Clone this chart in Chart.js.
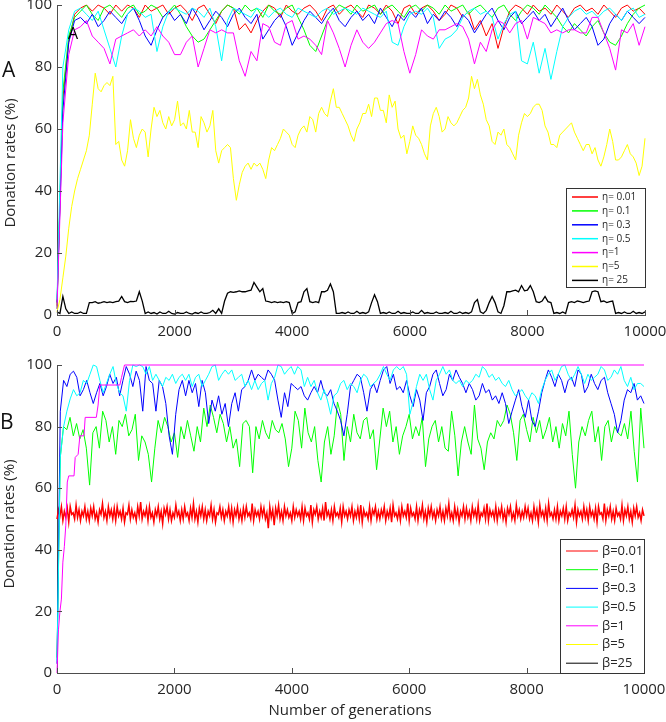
<!DOCTYPE html>
<html>
<head>
<meta charset="utf-8">
<script src="https://cdn.jsdelivr.net/npm/chart.js@4.4.1/dist/chart.umd.min.js"></script>
<style>
  html, body { margin: 0; padding: 0; background: #fff; }
  body { width: 666px; height: 722px; overflow: hidden; position: relative; }
  canvas { position: absolute; left: 0; }
  #top { top: -20px; }
  #bottom { top: 340px; }
</style>
</head>
<body>
<canvas id="top" width="700" height="370"></canvas>
<canvas id="bottom" width="700" height="382"></canvas>
<script>
const GEN_MAX = 10000;
const X_TICKS = [0, 2000, 4000, 6000, 8000, 10000];
const Y_TICKS = [0, 20, 40, 60, 80, 100];
const ETA_LABELS = ["η= 0.01", "η= 0.1", "η= 0.3", "η= 0.5", "η=1", "η=5", "η= 25"];
const BETA_LABELS = ["β=0.01", "β=0.1", "β=0.3", "β=0.5", "β=1", "β=5", "β=25"];
const COLORS = ["#ff0000", "#00ff00", "#0000ff", "#00ffff", "#ff00ff", "#ffff00", "#000000"];

// panel A, one value every 100 generations
const ETA_001 = [3, 70, 88, 97, 99, 100, 98, 100, 99, 97, 100,
  98, 100, 99, 96, 100, 98, 99, 100, 97, 99,
  100, 98, 95, 99, 100, 97, 94, 98, 100, 99,
  92, 94, 91, 95, 98, 100, 99, 96, 100, 98,
  97, 99, 100, 98, 95, 99, 100, 97, 99, 100,
  98, 96, 100, 99, 97, 100, 98, 94, 99, 100,
  97, 99, 100, 98, 95, 97, 100, 99, 96, 98,
  92, 95, 90, 94, 86, 93, 98, 100, 99, 97,
  100, 98, 99, 97, 100, 98, 96, 99, 100, 98,
  99, 97, 100, 98, 96, 99, 100, 98, 99, 97];
const ETA_01 = [2, 72, 90, 96, 98, 100, 97, 95, 99, 100, 98,
  96, 99, 100, 97, 98, 100, 99, 96, 98, 100,
  97, 93, 90, 88, 89, 92, 95, 98, 100, 99,
  97, 100, 98, 99, 96, 100, 98, 97, 99, 100,
  96, 92, 87, 85, 90, 95, 98, 100, 99, 97,
  100, 98, 99, 100, 97, 99, 100, 98, 96, 99,
  100, 98, 100, 99, 97, 100, 98, 99, 100, 97,
  99, 100, 98, 96, 99, 100, 97, 95, 98, 100,
  99, 97, 100, 98, 96, 93, 91, 94, 92, 90,
  93, 95, 91, 88, 87, 90, 94, 97, 99, 100];
const ETA_03 = [4, 66, 88, 95, 96, 94, 97, 93, 95, 98, 96,
  94, 97, 99, 95, 90, 87, 92, 96, 98, 95,
  97, 94, 99, 96, 92, 95, 98, 96, 93, 97,
  99, 96, 94, 97, 89, 92, 95, 97, 93, 87,
  91, 95, 98, 96, 94, 97, 99, 95, 93, 96,
  98, 95, 97, 94, 99, 96, 93, 97, 95, 98,
  96, 99, 94, 97, 95, 98, 96, 93, 97, 95,
  91, 94, 97, 99, 95, 92, 96, 98, 94, 96,
  98, 95, 97, 93, 96, 99, 95, 92, 94, 96,
  93, 87, 89, 94, 97, 95, 98, 96, 94, 96];
const ETA_05 = [5, 80, 92, 98, 99, 97, 95, 98, 92, 86, 80,
  90, 97, 99, 98, 96, 97, 85, 93, 98, 99,
  98, 97, 99, 98, 96, 99, 93, 82, 95, 99,
  98, 97, 96, 99, 98, 96, 98, 99, 97, 96,
  99, 98, 97, 96, 98, 99, 97, 98, 99, 98,
  97, 99, 98, 97, 96, 98, 88, 87, 93, 97,
  98, 97, 99, 96, 86, 89, 90, 92, 96, 98,
  99, 97, 98, 96, 89, 94, 97, 98, 82, 81,
  88, 78, 86, 76, 85, 93, 96, 98, 99, 97,
  98, 96, 98, 99, 97, 95, 98, 99, 96, 97];
const ETA_1 = [2, 62, 84, 92, 93, 95, 90, 88, 86, 81, 89,
  90, 91, 92, 90, 92, 90, 93, 90, 88, 84,
  84, 88, 90, 80, 86, 92, 91, 92, 91, 91,
  82, 77, 85, 82, 94, 93, 88, 87, 94, 95,
  89, 90, 89, 87, 84, 95, 91, 86, 80, 87,
  92, 88, 86, 88, 91, 94, 95, 94, 85, 78,
  84, 92, 90, 89, 92, 92, 93, 94, 93, 89,
  81, 88, 85, 92, 95, 94, 91, 94, 95, 89,
  96, 95, 94, 91, 92, 91, 92, 92, 91, 91,
  96, 96, 91, 86, 79, 92, 91, 94, 87, 93];
// one value every 50 generations
const ETA_5 = [1, 5, 12, 19, 28, 35, 40, 44, 47, 50, 53, 58, 68, 78, 73, 72, 74, 75, 74, 77,
  55, 56, 50, 48, 53, 63, 57, 54, 58, 60, 59, 51, 60, 67, 64, 66, 62, 60, 64, 61,
  63, 69, 61, 62, 60, 66, 59, 59, 54, 64, 62, 59, 61, 66, 53, 49, 53, 54, 55, 54,
  44, 37, 42, 46, 48, 49, 47, 49, 48, 49, 47, 44, 50, 54, 53, 55, 57, 60, 59, 58,
  55, 54, 58, 60, 61, 59, 64, 63, 59, 65, 67, 65, 64, 69, 73, 67, 67, 65, 63, 61,
  58, 56, 60, 62, 65, 65, 68, 64, 70, 70, 66, 66, 62, 71, 67, 69, 60, 57, 58, 52,
  56, 61, 58, 57, 55, 52, 50, 61, 65, 67, 64, 59, 60, 64, 62, 61, 62, 64, 66, 67,
  70, 77, 73, 76, 71, 68, 63, 61, 56, 55, 59, 58, 60, 55, 54, 52, 50, 58, 62, 65,
  64, 65, 67, 68, 68, 66, 61, 59, 55, 55, 54, 58, 59, 60, 61, 62, 59, 57, 55, 53,
  55, 55, 52, 54, 50, 48, 51, 55, 60, 56, 50, 50, 51, 53, 55, 52, 51, 49, 45, 48,
  57];
const ETA_25 = [1, 0.5, 6, 2, 0.5, 1, 0.5, 0.5, 1, 0.5, 0.5, 4, 4, 4.3, 3.8, 4, 4.3, 4, 4.2, 4,
  4.3, 4.5, 6, 4.3, 4, 4.4, 4.3, 4.5, 7.5, 4.5, 0.5, 1,
  0.5, 0.8, 0.3, 1, 0.5, 0.5, 1.2, 0.5, 0.3, 0.8, 0.5, 0.5, 1, 0.5, 0.3, 0.8, 0.5, 1, 0.5, 0.5, 0.8, 1.5, 0.5, 2, 0.5,
  4.5, 7, 7.5, 7.3, 7.5, 7.8, 7.5, 7.5, 7.8, 8, 10.5, 9, 7.5, 8.5, 4.5, 4.3, 4, 4.3, 4, 4.2,
  4, 4.3, 4, 0.5, 1, 4, 4.3, 7.5, 8.5, 4.3, 4, 4.3, 4, 7.5, 7.5, 8, 10, 7.5, 0.5,
  0.5, 0.8, 0.5, 1, 0.5, 0.5, 1.2, 0.5, 0.8, 0.5, 1, 4, 6.5, 4.3, 0.5,
  0.8, 0.5, 1, 0.5, 0.5, 1.2, 0.5, 0.8, 0.5, 0.5, 1, 0.5, 0.5, 1.5, 0.5, 0.8, 0.5, 0.5, 1, 0.5,
  0.5, 0.8, 0.5, 1.2, 0.5, 0.5, 1, 0.5, 0.8, 0.5,
  1, 4, 5, 1, 0.5, 1.5, 4, 6, 4, 1, 0.5, 3, 7.5, 7.5, 7.8, 8, 7.5, 9.5, 7.8, 8,
  9.5, 7.5, 4.3, 4, 4.5, 6, 4.3, 4, 0.5, 0.8, 0.5, 1, 0.5, 4, 4.3, 4, 4.5, 4.3, 4, 4.3,
  4.5, 7.5, 7.8, 7.5, 4.3, 4.5, 4, 4.3, 4.5, 0.5,
  0.8, 0.5, 1, 0.5, 0.5, 1.2, 0.5, 0.8, 0.5, 1];

// panel B
// one value every 25 generations: the dense noisy band around 52 %
const BETA_001 = [50, 53, 51, 54, 49.5, 52.5, 50.5, 53.5, 49, 54, 51.5, 52, 50, 54.5, 50.5, 53, 49.5, 52.5, 51, 54,
  50, 52.5, 49.5, 53.5, 51, 54, 50, 52, 49, 53, 51.5, 55, 50.5, 52.5, 49.5, 54, 51, 53, 50, 53.5,
  49.5, 54, 51, 52.5, 50, 53.5, 49, 52, 51.5, 54.5, 50, 53, 50.5, 52, 49.5, 54, 51, 55.5, 50, 52.5,
  51, 53.5, 49.5, 54, 50.5, 52, 49, 53, 51, 54, 50, 52.5, 48.5, 53.5, 51.5, 54, 50, 53, 49.5, 52,
  50.5, 54.5, 51, 52.5, 49.5, 53, 50, 54, 51, 52, 49.5, 53.5, 50.5, 55, 50, 52.5, 49, 53.5, 51, 54,
  50, 53, 49.5, 52.5, 51, 54.5, 50, 53, 49, 52, 51.5, 54, 50.5, 53, 49.5, 52.5, 51, 54, 50, 53.5,
  49, 53, 51, 54, 50, 52.5, 49.5, 53.5, 50.5, 54, 51, 52, 50, 55, 49.5, 53, 51, 52.5, 50, 54,
  51, 53.5, 50, 52, 47, 54, 50.5, 53, 48, 53.5, 51, 54.5, 50, 52.5, 49.5, 54, 51, 53, 50.5, 52,
  49.5, 54, 50.5, 53, 51, 52.5, 50, 54, 49.5, 53.5, 51, 52, 50, 54.5, 49, 53, 51.5, 54, 50, 52.5,
  50.5, 53.5, 49.5, 55.5, 51, 52.5, 50, 53, 49.5, 54, 51, 52, 50.5, 53.5, 49, 54, 51, 52.5, 50, 53,
  51, 54, 49.5, 52.5, 50.5, 53.5, 50, 54.5, 49, 53, 51, 52, 50, 54, 49.5, 53, 51.5, 54, 50, 52.5,
  50, 53, 51, 54, 49.5, 52.5, 50.5, 53.5, 49, 54.5, 51, 52, 50, 53, 49.5, 54, 51, 52.5, 50.5, 55,
  49.5, 53.5, 51, 52, 50, 54, 49.5, 53, 51, 54.5, 50, 52.5, 49, 53.5, 51, 54, 50.5, 52.5, 49.5, 53,
  51, 54, 50, 52.5, 49.5, 53.5, 51, 55, 50, 52, 49.5, 54, 50.5, 53, 49, 52.5, 51, 54, 50, 53.5,
  50.5, 52.5, 49.5, 54, 51, 53, 50, 54.5, 49.5, 52, 51, 53.5, 50, 55, 49.5, 53, 51, 52.5, 50, 54,
  49.5, 53, 51, 54, 50, 52.5, 49, 53.5, 51.5, 54, 50, 52, 49.5, 54.5, 51, 53, 50, 52.5, 50.5, 54,
  51, 53.5, 50, 52, 49.5, 54, 50.5, 53, 49, 54.5, 51, 52.5, 50, 53.5, 49.5, 55, 51, 52, 50, 53,
  50, 54, 49.5, 52.5, 51, 53.5, 50, 54, 49.5, 52, 51, 53, 50.5, 54.5, 49, 53, 51, 52.5, 50, 54,
  50.5, 53, 49.5, 54, 51, 52.5, 50, 53.5, 49, 54, 51.5, 52, 50, 55, 49.5, 53, 51, 54, 50, 52.5,
  49.5, 53.5, 51, 52, 50, 54.5, 49.5, 53, 51, 54, 50, 52.5, 49, 53.5, 51, 54, 50.5, 52, 49.5, 53,
  51];
const BETA_01 = [5, 70, 80, 79, 83, 77, 81, 76, 79, 73, 61, 78, 80, 73, 85, 82, 75, 80, 71, 82,
  80, 84, 77, 79, 84, 69, 77, 75, 71, 62, 73, 82, 78, 83, 80, 75, 78, 70, 80, 76,
  82, 77, 72, 80, 75, 86, 80, 87, 83, 78, 84, 81, 75, 80, 73, 76, 67, 81, 82,
  80, 65, 80, 76, 82, 78, 76, 82, 79, 78, 81, 76, 67, 73, 85, 82, 73, 86, 78, 75,
  80, 69, 62, 75, 80, 71, 77, 88, 84, 69, 80, 75, 84, 78, 76, 82, 83, 76, 79, 66,
  76, 86, 80, 85, 75, 80, 71, 77, 80, 84, 76, 80, 77, 83, 67, 76, 80, 82, 75, 80,
  73, 72, 85, 77, 64, 75, 80, 75, 71, 87, 76, 73, 66, 75, 78, 76, 82, 80, 82, 87,
  84, 78, 69, 82, 84, 79, 75, 83, 78, 82, 76, 79, 83, 75, 80, 73, 81, 77, 85, 71,
  60, 75, 80, 77, 82, 85, 75, 80, 69, 80, 82, 75, 80, 78, 77, 81, 76, 85, 72, 62,
  86, 73];
const BETA_03 = [3, 85, 95, 93, 97, 98, 96, 90, 92, 95, 91, 87.5, 91, 94, 90, 93, 97, 94, 96, 90,
  95, 99.5, 97, 93, 98, 95, 85, 99.5, 95, 94, 85, 95, 93, 87.5, 77, 71, 84, 92, 95, 90,
  95, 91, 94, 86.5, 95, 91, 81, 88.6, 85, 90, 84, 87.5, 80, 87.5, 91, 85, 92, 93, 95,
  98.4, 95, 97, 96, 95, 98.4, 97, 95, 88.6, 83, 91, 86.5, 94, 93, 92, 93, 90, 88.6, 91, 93,
  91, 95, 91, 90, 92, 87.5, 85, 82, 77, 84, 93, 95, 97, 96, 91, 85, 92, 94, 91, 95,
  98.4, 99.5, 94, 97, 92, 93, 91, 95, 90, 86.5, 92, 88.6, 82, 91, 93, 97, 98.4, 94, 90, 92,
  97, 95, 98.4, 96, 94, 91, 94, 92, 88.6, 90, 94, 91, 92, 88.6, 90, 87.5, 91, 87.5, 81, 85,
  88.6, 92, 86.5, 83, 88.6, 82, 80, 85, 91, 95, 98.4, 96, 93, 97, 95, 91, 95, 96, 93, 98.4,
  97, 91, 93, 97, 94, 92, 95, 96, 91, 87.5, 84, 78, 82, 88.6, 92, 91, 94, 88.6, 90, 87.5];
const BETA_05 = [4, 70, 80, 85, 89, 92, 90, 91, 95, 94, 97, 100, 99.5, 95, 91, 94, 97, 99.5, 94, 91,
  90, 85, 95, 100, 99.5, 100, 99.5, 97, 99.5, 95, 97, 95, 93, 96, 95, 97, 94, 96, 97, 95,
  97, 93, 96, 97, 93, 95, 97, 99.5, 100, 95, 97, 98.4, 97, 98.4, 95, 96, 97, 93, 95, 92,
  95, 92, 94, 95, 88.6, 94, 96, 100, 99.5, 97, 98.4, 99.5, 97, 99.5, 98.4, 93, 96, 93, 95, 91,
  88.6, 92, 88.6, 84, 90, 91, 94, 95, 92, 94, 93, 91, 95, 97, 96, 93, 94, 95, 97, 99.5,
  97, 95, 98.4, 99.5, 98.4, 99.5, 97, 84, 88, 93, 97, 95, 97, 92, 88.6, 95, 97, 99.5, 97,
  98.4, 95, 94, 95, 93, 95, 94, 95, 97, 96, 99.5, 98.4, 96, 97, 95, 96, 94, 93, 95, 92,
  90, 91, 92, 90, 88.6, 91, 90, 87.5, 92, 95, 97, 98.4, 95, 97, 99.5, 100, 97, 95, 97, 99.5,
  97, 94, 97, 95, 96, 97, 99.5, 98.4, 95, 96, 98.4, 97, 99.5, 95, 93, 96, 92, 94, 94, 93];
const BETA_1_GEN = [0, 25, 50, 75, 100, 125, 150, 175, 200, 290, 310, 360, 390, 460, 480, 670, 700, 730, 1070, 1100, 1150, 10000];
const BETA_1 = [0, 14, 20, 24, 36, 41, 48, 62, 64, 64, 70, 71, 77, 77, 83, 83, 87, 93.5, 93.5, 96, 100, 100];
const BETA_5 = [];
const BETA_25 = [];

const FONT = '"Open Sans", "DejaVu Sans", sans-serif';
const AXIS = "#4d4d4d";
const TEXT = "#262626";

// values spread evenly over 0..10000 generations
function even(vals) {
  const n = vals.length;
  return vals.map((v, i) => ({ x: i * GEN_MAX / (n - 1), y: v }));
}
function paired(xs, ys) {
  return xs.map((x, i) => ({ x, y: ys[i] }));
}

function line(label, i, points, width) {
  return {
    label,
    data: points,
    borderColor: COLORS[i],
    backgroundColor: COLORS[i],
    borderWidth: width || 1,
    pointRadius: 0,
    tension: 0,
    fill: false,
    clip: false,
    order: -i, // later series on top, like the original
  };
}

// inward ticks, boxed legend and the free texts
const decor = {
  id: "decor",
  afterDraw(chart, args, o) {
    const { ctx, chartArea: a, scales } = chart;
    ctx.save();
    ctx.strokeStyle = AXIS;
    ctx.lineWidth = 1;
    ctx.beginPath();
    X_TICKS.forEach((v) => {
      const p = Math.round(scales.x.getPixelForValue(v)) + 0.5;
      ctx.moveTo(p, a.bottom); ctx.lineTo(p, a.bottom - 5);
    });
    Y_TICKS.forEach((v) => {
      const p = Math.round(scales.y.getPixelForValue(v)) + 0.5;
      ctx.moveTo(a.left, p); ctx.lineTo(a.left + 5, p);
    });
    ctx.stroke();

    const L = o.legend;
    ctx.fillStyle = "#fff";
    ctx.fillRect(L.x, L.y, L.w, L.h);
    ctx.strokeStyle = "#333";
    ctx.strokeRect(L.x + 0.5, L.y + 0.5, L.w, L.h);
    ctx.font = L.size + "px " + FONT;
    ctx.textBaseline = "middle";
    ctx.textAlign = "left";
    chart.data.datasets.forEach((ds, i) => {
      const yy = L.y + L.y0 + i * L.dy;
      ctx.strokeStyle = ds.borderColor;
      ctx.lineWidth = L.lw;
      ctx.beginPath(); ctx.moveTo(L.x + L.l0, yy); ctx.lineTo(L.x + L.l1, yy); ctx.stroke();
      ctx.fillStyle = TEXT;
      ctx.fillText(ds.label, L.x + L.tx, yy);
    });

    o.texts.forEach((t) => {
      ctx.save();
      ctx.font = t.size + "px " + FONT;
      ctx.fillStyle = t.color || TEXT;
      ctx.textAlign = t.align || "center";
      ctx.textBaseline = "middle";
      ctx.translate(t.x, t.y);
      if (t.rotate) ctx.rotate(-Math.PI / 2);
      ctx.fillText(t.text, 0, 0);
      ctx.restore();
    });
    ctx.restore();
  },
};

function makeChart(id, datasets, d) {
  const tickFont = { family: FONT, size: 15 };
  return new Chart(document.getElementById(id), {
    type: "line",
    data: { datasets },
    options: {
      responsive: false,
      animation: false,
      devicePixelRatio: 1,
      layout: { padding: { top: 25, right: d.padRight, left: 0, bottom: 0 } },
      plugins: { legend: { display: false }, tooltip: { enabled: false }, decor: d },
      scales: {
        x: {
          type: "linear", min: 0, max: GEN_MAX,
          afterFit: (s) => { s.height = d.xHeight; },
          grid: { display: false, drawTicks: false },
          border: { display: true, color: AXIS, width: 1 },
          ticks: { stepSize: 2000, padding: 8, color: TEXT, font: tickFont, maxRotation: 0, autoSkip: false, callback: (v) => String(v) },
        },
        y: {
          min: 0, max: 100,
          afterFit: (s) => { s.width = 57; },
          grid: { display: false, drawTicks: false },
          border: { display: true, color: AXIS, width: 1 },
          ticks: { stepSize: 20, padding: 5, color: TEXT, font: tickFont, callback: (v) => String(v) },
        },
      },
    },
    plugins: [decor],
  });
}

makeChart("top", [
  line(ETA_LABELS[0], 0, even(ETA_001)),
  line(ETA_LABELS[1], 1, even(ETA_01)),
  line(ETA_LABELS[2], 2, even(ETA_03)),
  line(ETA_LABELS[3], 3, even(ETA_05)),
  line(ETA_LABELS[4], 4, even(ETA_1)),
  line(ETA_LABELS[5], 5, even(ETA_5)),
  line(ETA_LABELS[6], 6, even(ETA_25), 1.3),
], {
  padRight: 55, xHeight: 35,
  legend: { x: 566, y: 208, w: 79, h: 99, y0: 9, dy: 13.9, l0: 6, l1: 32, tx: 36, size: 10, lw: 1.5 },
  texts: [
    { text: "A", x: 2, y: 91, size: 21, align: "left", color: "#111" },
    { text: "A", x: 68, y: 54, size: 16, align: "left", color: "#000" },
    { text: "Donation rates (%)", x: 11, y: 183, size: 15, rotate: true },
  ],
});

makeChart("bottom", [
  line(BETA_LABELS[0], 0, even(BETA_001), 1.5),
  line(BETA_LABELS[1], 1, even(BETA_01)),
  line(BETA_LABELS[2], 2, even(BETA_03)),
  line(BETA_LABELS[3], 3, even(BETA_05)),
  line(BETA_LABELS[4], 4, paired(BETA_1_GEN, BETA_1)),
  line(BETA_LABELS[5], 5, even(BETA_5)),
  line(BETA_LABELS[6], 6, even(BETA_25)),
], {
  padRight: 56, xHeight: 49,
  legend: { x: 560, y: 199, w: 84, h: 134, y0: 12, dy: 18.7, l0: 6, l1: 38, tx: 42, size: 13, lw: 1 },
  texts: [
    { text: "B", x: 0, y: 83, size: 21, align: "left", color: "#111" },
    { text: "Donation rates (%)", x: 10, y: 184, size: 15, rotate: true },
    { text: "Number of generations", x: 350, y: 371, size: 15 },
  ],
});
</script>
</body>
</html>
